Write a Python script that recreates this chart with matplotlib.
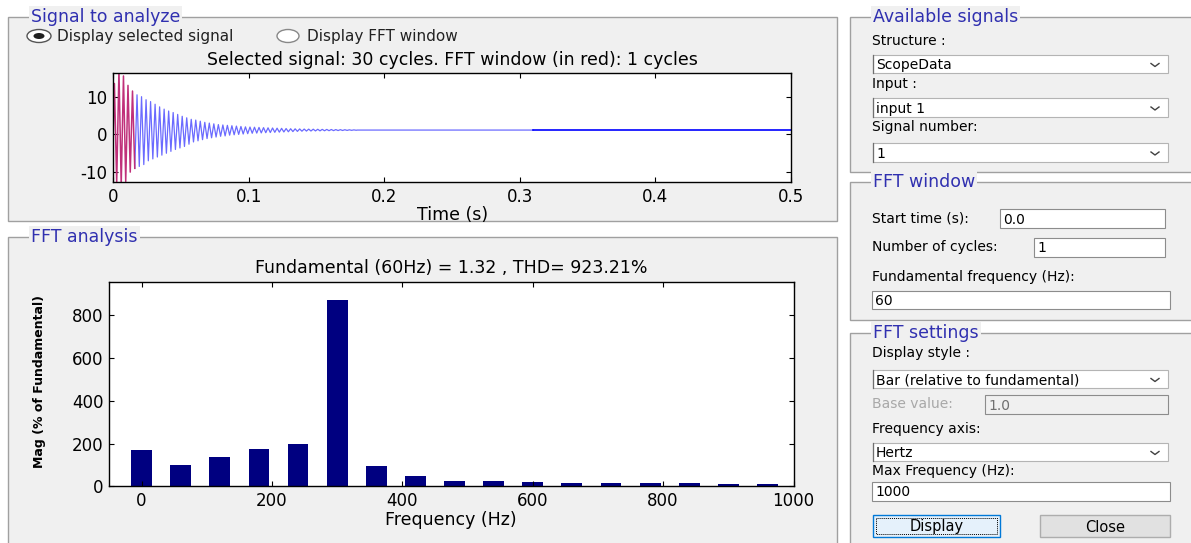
import matplotlib.pyplot as plt
from matplotlib.patches import Rectangle, Ellipse

W, H = 1191, 543

# FFT bars (relative to fundamental, %)
freqs = [0, 60, 120, 180, 240, 300, 360, 420, 480, 540, 600, 660, 720, 780, 840, 900, 960]
mag = [170, 100, 137, 175, 200, 870, 95, 48, 25, 25, 19, 14, 14, 14, 14, 9, 9]

# time signal: 300 Hz ringing, max / min of each cycle
ring_hz = 300
sig_upper = [13.5, 17.0, 15.5, 13.0, 11.5, 10.5, 10.0, 9.2, 8.7, 8.0, 7.3, 6.7,
             6.2, 5.8, 5.3, 4.8, 4.4, 4.0, 3.8, 3.5, 3.2, 3.0, 2.8, 2.6, 2.5,
             2.4, 2.3, 2.2, 2.1, 2.0, 1.95, 1.9, 1.85, 1.8, 1.75, 1.7, 1.65,
             1.6, 1.55, 1.5, 1.48, 1.45, 1.42, 1.4, 1.38, 1.36, 1.34, 1.32,
             1.3, 1.28, 1.26, 1.24, 1.22, 1.2]
sig_lower = [-13.0, -13.5, -12.5, -10.0, -9.0, -8.5, -8.0, -7.0, -6.5, -6.0,
             -5.5, -5.0, -4.5, -4.0, -3.6, -3.2, -2.6, -2.0, -1.7, -1.4, -1.1,
             -0.9, -0.7, -0.5, -0.4, -0.2, -0.1, 0.0, 0.1, 0.2, 0.3, 0.35, 0.4,
             0.45, 0.5, 0.55, 0.6, 0.65, 0.7, 0.75, 0.8, 0.85, 0.88, 0.9, 0.92,
             0.94, 0.96, 0.98, 1.0, 1.02, 1.04, 1.06, 1.08, 1.1]
sig_dc = 1.15
t_end = 0.5
t_dark = 0.31
fft_window_end = 1 / 60

PANEL = '#f0f0f0'
EDGE = '#a0a0a0'
TITLE_BLUE = '#3030b0'
plt.rcParams['font.family'] = ['DejaVu Sans']
plt.rcParams['axes.unicode_minus'] = False

fig = plt.figure(figsize=(W / 100, H / 100), dpi=100)
fig.patch.set_facecolor('white')

# background layer in pixel coords (y down)
bg = fig.add_axes([0, 0, 1, 1], zorder=0)
bg.set_xlim(0, W)
bg.set_ylim(H, 0)
bg.axis('off')


def panel(x0, y0, x1, y1, title):
    bg.add_patch(Rectangle((x0, y0), x1 - x0, y1 - y0, facecolor=PANEL,
                           edgecolor=EDGE, lw=1))
    bg.text(x0 + 23, y0, title, color=TITLE_BLUE, fontsize=12.5, ha='left',
            va='center', bbox=dict(facecolor=PANEL, edgecolor='none', pad=1.5))


def label(x, y, s, color='black', size=10):
    bg.text(x, y, s, fontsize=size, color=color, ha='left', va='center')


def edit_box(x0, y0, x1, y1, s, enabled=True):
    fc = 'white' if enabled else PANEL
    bg.add_patch(Rectangle((x0, y0), x1 - x0, y1 - y0, facecolor=fc,
                           edgecolor='#8c8c8c', lw=0.8))
    label(x0 + 3, (y0 + y1) / 2 + 1, s, color='black' if enabled else '#707070')


def dropdown(x0, y0, x1, y1, s):
    bg.add_patch(Rectangle((x0, y0), x1 - x0, y1 - y0, facecolor='white',
                           edgecolor='#b4b4b4', lw=0.8))
    bg.plot([x0, x0], [y0, y1], color='#707070', lw=0.9)
    label(x0 + 3, (y0 + y1) / 2 + 1, s)
    c = (y0 + y1) / 2 + 1
    bg.plot([x1 - 17, x1 - 13, x1 - 9], [c - 1.5, c + 1.5, c - 1.5],
            color='#404040', lw=1)


def button(x0, y0, x1, y1, s, focused=False):
    fc = '#e5f1fb' if focused else '#e1e1e1'
    ec = '#0078d7' if focused else '#adadad'
    bg.add_patch(Rectangle((x0, y0), x1 - x0, y1 - y0, facecolor=fc,
                           edgecolor=ec, lw=1))
    if focused:
        bg.add_patch(Rectangle((x0 + 3, y0 + 3), x1 - x0 - 6, y1 - y0 - 6,
                               fill=False, edgecolor='black', lw=0.7,
                               linestyle=(0, (1, 1))))
    bg.text((x0 + x1) / 2, (y0 + y1) / 2 + 1, s, fontsize=10.5, ha='center',
            va='center')


# left panels
panel(8, 17, 837, 221, 'Signal to analyze')
panel(8, 237, 837, 546, 'FFT analysis')

bg.add_patch(Ellipse((39, 36), 24, 13, facecolor='white', edgecolor='#555555', lw=1))
bg.add_patch(Ellipse((39, 36), 11, 6, facecolor='#202020', edgecolor='none'))
bg.text(57, 36, 'Display selected signal', fontsize=11, va='center', color='#222222')
bg.add_patch(Ellipse((288, 36), 22, 13, facecolor='white', edgecolor='#888888', lw=1))
bg.text(307, 36, 'Display FFT window', fontsize=11, va='center', color='#222222')

bg.text(40, 381, 'Mag (% of Fundamental)', rotation=90, fontsize=9,
        fontweight='bold', ha='center', va='center')

# right panels
panel(850, 17, 1196, 172, 'Available signals')
panel(850, 182, 1196, 320, 'FFT window')
panel(850, 333, 1196, 546, 'FFT settings')

label(872, 41, 'Structure :')
dropdown(873, 55, 1168, 73, 'ScopeData')
label(872, 84, 'Input :')
dropdown(873, 98, 1168, 117, 'input 1')
label(872, 127, 'Signal number:')
dropdown(873, 143, 1168, 162, '1')

label(872, 218, 'Start time (s):')
edit_box(1000, 209, 1165, 228, '0.0')
label(872, 247, 'Number of cycles:')
edit_box(1034, 238, 1165, 257, '1')
label(872, 277, 'Fundamental frequency (Hz):')
edit_box(872, 291, 1170, 309, '60')

label(872, 353, 'Display style :')
dropdown(873, 370, 1168, 388, 'Bar (relative to fundamental)')
label(872, 404, 'Base value:', color='#a8a8a8')
edit_box(985, 395, 1168, 414, '1.0', enabled=False)
label(872, 429, 'Frequency axis:')
dropdown(873, 443, 1168, 461, 'Hertz')
label(872, 471, 'Max Frequency (Hz):')
edit_box(872, 482, 1170, 501, '1000')
button(873, 515, 1000, 537, 'Display', focused=True)
button(1040, 515, 1170, 537, 'Close')


def matlab_axes(ax):
    ax.set_facecolor('white')
    ax.tick_params(direction='in', top=True, right=True, length=3.5, width=0.8,
                   labelsize=12, pad=4)
    for sp in ax.spines.values():
        sp.set_linewidth(1.0)
        sp.set_color('black')


# time signal
ax1 = fig.add_axes([113.3 / W, 1 - 182.3 / H, 677.7 / W, 109 / H], zorder=2)
matlab_axes(ax1)
t_pts = [0.0]
y_pts = [sig_dc]
for k in range(len(sig_upper)):
    t_pts += [(k + 0.25) / ring_hz, (k + 0.75) / ring_hz]
    y_pts += [sig_upper[k], sig_lower[k]]
n_red = sum(1 for t in t_pts if t <= fft_window_end)
t_pts += [len(sig_upper) / ring_hz, t_dark]
y_pts += [sig_dc, sig_dc]
ax1.plot(t_pts[n_red - 1:], y_pts[n_red - 1:], color='#6a6aff', lw=0.9)
ax1.plot(t_pts[:n_red], y_pts[:n_red], color='#c0307a', lw=1.1)
ax1.plot([t_dark, t_end], [sig_dc, sig_dc], color='#0000ff', lw=1.2)
ax1.set_xlim(0, t_end)
ax1.set_ylim(-12.7, 16.2)
ax1.set_xticks([0, 0.1, 0.2, 0.3, 0.4, 0.5])
ax1.set_xticklabels(['0', '0.1', '0.2', '0.3', '0.4', '0.5'])
ax1.set_yticks([-10, 0, 10])
ax1.set_xlabel('Time (s)', fontsize=12.5, labelpad=0)
ax1.set_title('Selected signal: 30 cycles. FFT window (in red): 1 cycles',
              fontsize=12.5, pad=6)

# FFT bars
ax2 = fig.add_axes([109 / W, 1 - 486.3 / H, 684.5 / W, 204 / H], zorder=2)
matlab_axes(ax2)
ax2.bar(freqs, mag, width=32, color='#000080')
ax2.set_xlim(-50, 1000)
ax2.set_ylim(0, 955)
ax2.set_xticks([0, 200, 400, 600, 800, 1000])
ax2.set_yticks([0, 200, 400, 600, 800])
ax2.set_xlabel('Frequency (Hz)', fontsize=12.5, labelpad=1)
ax2.set_title('Fundamental (60Hz) = 1.32 , THD= 923.21%', fontsize=12.5, pad=7)

fig.savefig('out.png', dpi=100, facecolor=fig.get_facecolor())
